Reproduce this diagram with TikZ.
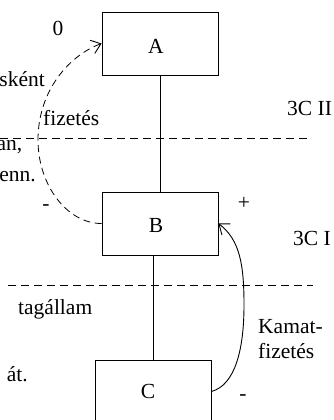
\documentclass[tikz,border=0pt]{standalone}
\usepackage{fontspec}
\setmainfont{Liberation Serif}
\usetikzlibrary{arrows.meta}
\begin{document}
\begin{tikzpicture}[x=1pt,y=-1pt,
  box/.style={draw, line width=0.9pt, minimum width=116pt, minimum height=63pt, inner sep=0pt},
  lbl/.style={font=\fontsize{21.5}{25}\selectfont, inner sep=0pt},
  sepline/.style={dash pattern=on 8pt off 5pt, line width=0.8pt},
  link/.style={line width=0.9pt},
  barb/.style={-{Straight Barb[length=9pt,width=14pt,line width=0.9pt]}},
  dcurve/.style={dash pattern=on 7pt off 4.5pt, line width=0.8pt}]
\clip (0,0) rectangle (334,420);
% boxes
\node[box, label={[lbl,xshift=-4pt,yshift=-2.5pt]center:A}] (A) at (160,43.5) {};
\node[box, label={[lbl,xshift=-4pt,yshift=-1.5pt]center:B}] (B) at (160,223.5) {};
\node[box, label={[lbl,xshift=-5pt,yshift=0pt]center:C}] (C) at (153,391.5) {};
% vertical links
\draw[link] (A.south) -- (B.north);
\draw[link] (C.north) -- (C.north |- B.south);
% separator lines
\coordinate (s1a) at (0,138);
\coordinate (s1b) at (308,138);
\coordinate (s2a) at (8,285);
\coordinate (s2b) at (313,285);
\draw[sepline] (s1a) -- (s1b);
\draw[sepline] (s2a) -- (s2b);
% curves
\draw[dcurve, barb] (B.west) .. controls (67,223.5) and (38,185) .. (38,140)
   .. controls (38,90) and (70,55) .. (A.west);
\draw[link, barb] (C.east) .. controls (235,385) and (244,350) .. (244,305)
   .. controls (244,265) and (240,240) .. (B.east);
% labels
\node[lbl, anchor=base] (zero) at (58,36) {0};
\node[lbl, anchor=base east] (t1) at (45,86) {sként};
\node[lbl, anchor=base west] (t2) at (43,125) {fizetés};
\node[lbl, anchor=base east] (t3) at (22.5,150.5) {an,};
\node[lbl, anchor=base east] (t4) at (36,181) {fenn.};
\node[lbl, anchor=base] (m1) at (46,210) {-};
\node[lbl] (p1) at (244,203) {+};
\node[lbl, anchor=base west] (t5) at (287,115) {3C II};
\node[lbl, anchor=base west] (t6) at (293,245) {3C I};
\node[lbl, anchor=base west] (t7) at (18,314) {tagállam};
\node[lbl, anchor=base east] (t8) at (28,381) {át.};
\node[lbl, anchor=base west] (t9) at (258,333) {Kamat-};
\node[lbl, anchor=base west] (t10) at (258,358) {fizetés};
\node[lbl, anchor=base] (m2) at (243,400) {-};
\end{tikzpicture}
\end{document}
